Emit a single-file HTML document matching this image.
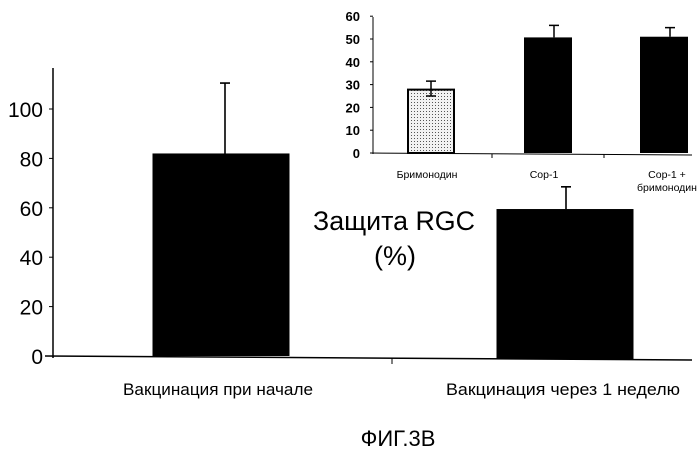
<!DOCTYPE html>
<html><head><meta charset="utf-8"><style>
html,body{margin:0;padding:0;background:#fff;}
svg{display:block;font-family:"Liberation Sans","DejaVu Sans",sans-serif;}
</style></head><body>
<svg id="chart" width="699" height="450" viewBox="0 0 699 450" xmlns="http://www.w3.org/2000/svg">
<defs>
<pattern id="dots" width="3" height="3" patternUnits="userSpaceOnUse">
<rect width="3" height="3" fill="#f2f2f2"/><rect width="1" height="1" fill="#555"/>
</pattern>
</defs>
<g id="main"></g>
<g id="inset"></g>
<text x="394" y="230" font-size="27" text-anchor="middle" textLength="162" lengthAdjust="spacingAndGlyphs">Защита RGC</text>
<text x="395" y="265" font-size="27" text-anchor="middle">(%)</text>
<text x="398" y="446" font-size="22" text-anchor="middle">ФИГ.3В</text>
</svg>
<script>
// main chart data
const mainCategories = ["Вакцинация при начале", "Вакцинация через 1 неделю"];
const mainValues = [82, 59.5];
const mainErrors = [110.5, 68.5];
const mainTicks = [0, 20, 40, 60, 80, 100];
// inset chart data
const insetCategories = [["Бримонодин"], ["Cop-1"], ["Cop-1 +", "бримонодин"]];
const insetValues = [27.8, 50.7, 51];
const insetErrHigh = [31.5, 56, 55];
const insetErrLow = [25, 50.7, 51];
const insetTicks = [0, 10, 20, 30, 40, 50, 60];

const NS = "http://www.w3.org/2000/svg";
function mk(parent, tag, attrs, text){
  const e = document.createElementNS(NS, tag);
  for (const k in attrs) e.setAttribute(k, attrs[k]);
  if (text !== undefined) e.textContent = text;
  parent.appendChild(e);
  return e;
}
// main axes
const my = v => 356 - v * 2.47;
const mainBand = {x0: 49, w: 344};
const mx = i => mainBand.x0 + mainBand.w * (i + 0.5);
const main = document.getElementById('main');
let e;
e = mk(main, 'line', {x1:53, y1:68, x2:53, y2:358, stroke:'#000', 'stroke-width':1.5});


e = mk(main, 'line', {x1:45, y1:356, x2:692, y2:360, stroke:'#000', 'stroke-width':1.5});


e = mk(main, 'line', {x1:392, y1:358, x2:392, y2:364, stroke:'#000', 'stroke-width':1});


mainTicks.forEach(t => {
  const l = mk(main, 'line', {x1:49, y1:my(t), x2:53, y2:my(t), stroke:'#000', 'stroke-width':1});
  
  
  const tx = mk(main, 'text', {x:43, y:my(t)+8, 'font-size':21, 'text-anchor':'end'}, String(t));
  
  
});
mainValues.forEach((v, i) => {
  const cx = mx(i);
  const bw = 137;
  const b = mk(main, 'rect', {x:cx - bw/2, y:my(v), width:bw, height:my(0) + (i ? 3 : 0) - my(v), fill:'#000'});
  
  
  const ex = cx + (i ? 1 : 4);
  const er = mk(main, 'path', {d:`M${ex},${my(v)} V${my(mainErrors[i])} M${ex-5},${my(mainErrors[i])} H${ex+5}`, stroke:'#000', 'stroke-width':1.6, fill:'none'});
  
  
  const lb = mk(main, 'text', {x:cx - 3 + i * 1, y:395, 'font-size':17, 'text-anchor':'middle', textLength: i ? 234 : 190, lengthAdjust:'spacingAndGlyphs'}, mainCategories[i]);
  
  
});
// inset
const iy = v => 153 - v * 2.28;
const ix = i => 431 + i * 116;
const inset = document.getElementById('inset');
e = mk(inset, 'line', {x1:373, y1:17, x2:373, y2:154, stroke:'#000', 'stroke-width':1});


e = mk(inset, 'line', {x1:370, y1:153, x2:692, y2:155, stroke:'#000', 'stroke-width':1});


[492, 604].forEach(x => {
  const l = mk(inset, 'line', {x1:x, y1:154, x2:x, y2:158, stroke:'#000', 'stroke-width':1});
  
  
});
insetTicks.forEach(t => {
  const l = mk(inset, 'line', {x1:370, y1:iy(t), x2:373, y2:iy(t), stroke:'#000', 'stroke-width':1});
  
  
  const tx = mk(inset, 'text', {x:360, y:iy(t)+5, 'font-size':13, 'font-weight':'bold', 'text-anchor':'end'}, String(t));
  
  
});
insetValues.forEach((v, i) => {
  const cx = ix(i) + (i ? 1 : 0);
  const bw = i ? 48 : 46;
  const b = mk(inset, 'rect', {x:cx - bw/2, y:iy(v), width:bw, height:iy(0) - iy(v), fill: i ? '#000' : 'url(#dots)', stroke:'#000', 'stroke-width': i ? 0 : 2});
  
  
  const ex = cx + (i ? 6 : 0);
  const er = mk(inset, 'path', {d:`M${ex},${iy(insetErrLow[i])} V${iy(insetErrHigh[i])} M${ex-5},${iy(insetErrHigh[i])} H${ex+5}` + (i ? '' : ` M${ex-5},${iy(insetErrLow[i])} H${ex+5}`), stroke:'#000', 'stroke-width':1.5, fill:'none'});
  
  
  insetCategories[i].forEach((line, j) => {
    const lb = mk(inset, 'text', {x: i === 2 ? 667 : cx - 4, y:178 + j * 13, 'font-size':10.5, 'text-anchor':'middle'}, line);
    
    
  });
});
</script>
</body></html>
